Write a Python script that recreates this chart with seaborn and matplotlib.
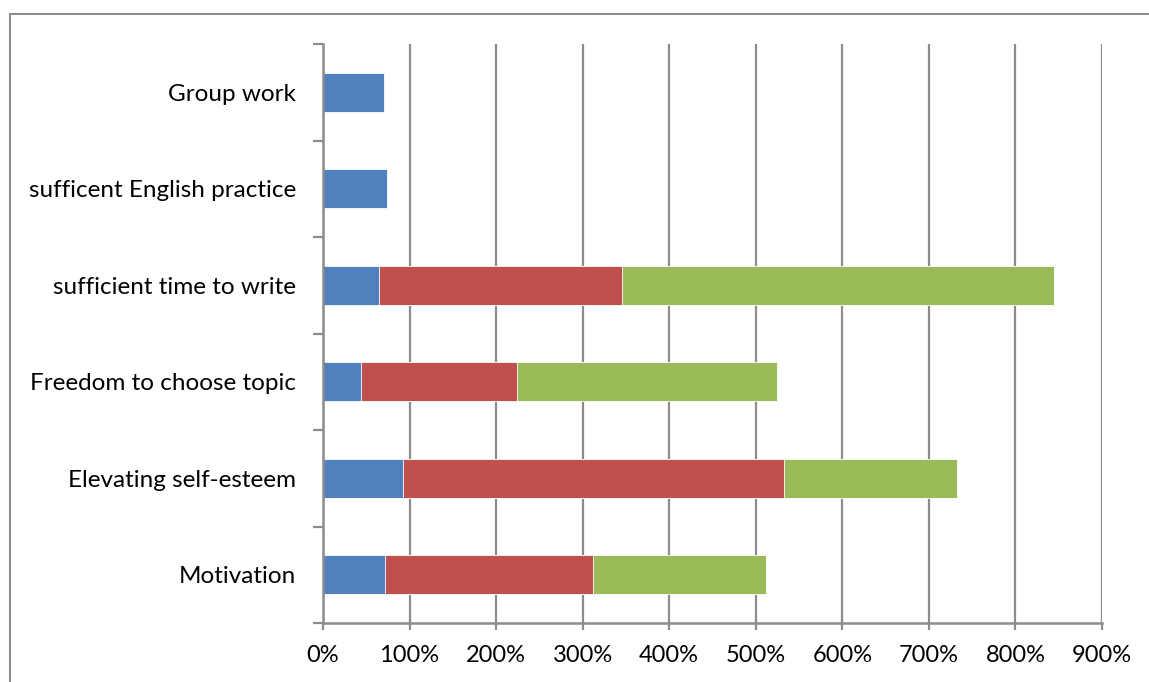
import matplotlib
matplotlib.use("Agg")
import matplotlib.pyplot as plt
from matplotlib.patches import Rectangle
import numpy as np
import pandas as pd
import seaborn as sns

categories = [
    "Group work",
    "sufficent English practice",
    "sufficient time to write",
    "Freedom to choose topic",
    "Elevating self-esteem",
    "Motivation",
]
blue_vals = [70, 74, 65, 44, 93, 72]
red_vals = [0, 0, 280, 180, 440, 240]
green_vals = [0, 0, 500, 300, 200, 200]
x_ticks = [0, 100, 200, 300, 400, 500, 600, 700, 800, 900]

colors = {"blue": "#4F81BD", "red": "#C0504D", "green": "#9BBB59"}
grid_col = "#8C8C8C"

sns.set_theme(style="white")
plt.rcParams["font.family"] = ["Lato", "DejaVu Sans"]

df = pd.DataFrame({
    "category": categories,
    "blue": blue_vals,
    "red": red_vals,
    "green": green_vals,
})
# cumulative ends of each stacked segment
df["end_blue"] = df["blue"]
df["end_red"] = df["blue"] + df["red"]
df["end_green"] = df["end_red"] + df["green"]

fig = plt.figure(figsize=(11.49, 6.82), dpi=100)
ax = fig.add_axes([323 / 1149, 1 - 623 / 682, (1102 - 323) / 1149, (623 - 44) / 682])

for col, key in [("end_green", "green"), ("end_red", "red"), ("end_blue", "blue")]:
    sns.barplot(data=df, x=col, y="category", order=categories, orient="h",
                color=colors[key], saturation=1, width=0.4,
                edgecolor="#FFFFFF", linewidth=0.6, ax=ax, zorder=3)

ax.set_xlim(0, 900)
ax.set_ylim(len(categories) - 0.5, -0.5)
ax.set_xticks(x_ticks)
ax.set_xticklabels([f"{v}%" for v in x_ticks])
ax.set_xlabel("")
ax.set_ylabel("")

# vertical gridlines
ax.xaxis.grid(True, color=grid_col, linewidth=1.6, zorder=0)
ax.yaxis.grid(False)
ax.set_axisbelow(True)

# y ticks at category boundaries
ax.set_yticks(np.arange(len(categories)))
ax.set_yticklabels(categories)
ax.set_yticks(np.arange(-0.5, len(categories)), minor=True)
ax.tick_params(axis="y", which="major", length=0, pad=19.5, labelsize=17.5, labelcolor="black")
ax.tick_params(axis="y", which="minor", left=True, length=7, width=1.6, color=grid_col)
ax.tick_params(axis="x", which="major", bottom=True, length=5, width=1.6, color=grid_col,
               pad=11, labelsize=17, labelcolor="black")

for side in ["top", "right"]:
    ax.spines[side].set_visible(False)
for side in ["left", "bottom"]:
    ax.spines[side].set_color(grid_col)
    ax.spines[side].set_linewidth(1.8)
    ax.spines[side].set_zorder(4)

# chart-area border
fig.patches.append(Rectangle((10 / 1149, -0.2), 1.5, 1 - 14 / 682 + 0.2,
                             transform=fig.transFigure, fill=False,
                             edgecolor="#8C8C8C", linewidth=1.5))

fig.savefig("out.png", dpi=100)
